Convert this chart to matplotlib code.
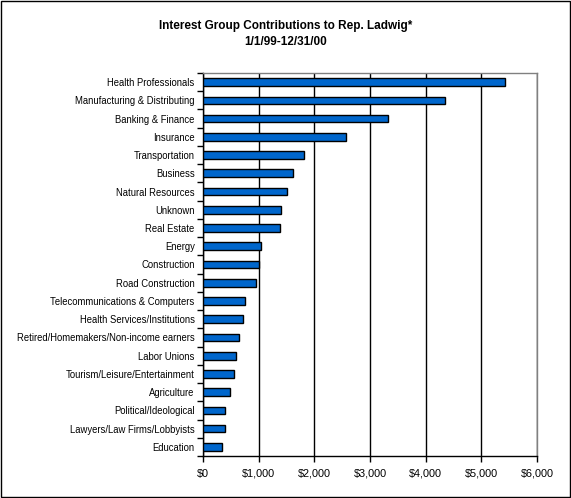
import matplotlib
matplotlib.use("Agg")
import matplotlib.pyplot as plt
import numpy as np
from matplotlib.ticker import FixedLocator

plt.rcParams['font.family'] = ['Liberation Sans', 'DejaVu Sans']

categories = [
    "Health Professionals", "Manufacturing & Distributing", "Banking & Finance",
    "Insurance", "Transportation", "Business", "Natural Resources", "Unknown",
    "Real Estate", "Energy", "Construction", "Road Construction",
    "Telecommunications & Computers", "Health Services/Institutions",
    "Retired/Homemakers/Non-income earners", "Labor Unions",
    "Tourism/Leisure/Entertainment", "Agriculture", "Political/Ideological",
    "Lawyers/Law Firms/Lobbyists", "Education",
]
values = [5420, 4340, 3320, 2560, 1820, 1625, 1500, 1410, 1375, 1050, 1010,
          960, 760, 710, 655, 600, 565, 490, 400, 400, 350]
xticks = [0, 1000, 2000, 3000, 4000, 5000, 6000]
xticklabels = ["$0", "$1,000", "$2,000", "$3,000", "$4,000", "$5,000", "$6,000"]
title = "Interest Group Contributions to Rep. Ladwig*\n1/1/99-12/31/00"

fig = plt.figure(figsize=(5.71, 4.98), dpi=100)
ax = fig.add_axes([203/571, 1-456/498, (537-203)/571, (456-73)/498])

n = len(categories)
y = np.arange(n)
ax.barh(y, values, height=0.42, color="#0066CC", edgecolor="black", linewidth=1, zorder=3)
ax.set_ylim(n - 0.5, -0.5)
ax.set_xlim(0, 6000)

ax.set_yticks(y)
ax.set_yticklabels(categories, fontsize=6.85)
ax.yaxis.set_minor_locator(FixedLocator(np.arange(n + 1) - 0.5))
ax.tick_params(axis='y', which='major', length=0, pad=6)
ax.tick_params(axis='y', which='minor', length=4, width=1, direction='out', color='black')

ax.set_xticks(xticks)
ax.set_xticklabels(xticklabels, fontsize=7.8)
ax.tick_params(axis='x', which='major', length=4, width=1, direction='out', pad=5)

ax.xaxis.grid(True, color='black', linewidth=1, zorder=0)
ax.set_axisbelow(True)

for s in ['top', 'right']:
    ax.spines[s].set_color('#808080')
    ax.spines[s].set_linewidth(1)
for s in ['left', 'bottom']:
    ax.spines[s].set_color('black')
    ax.spines[s].set_linewidth(1)

fig.text(0.5, 1 - 34/498, title, ha='center', va='center', fontsize=8.5,
         fontweight='bold', linespacing=1.35)

border = plt.Rectangle((0.001, 0.002), 0.997, 0.996, transform=fig.transFigure,
                       fill=False, edgecolor='black', linewidth=1.0)
fig.patches.append(border)

fig.savefig("out.png", dpi=100)
